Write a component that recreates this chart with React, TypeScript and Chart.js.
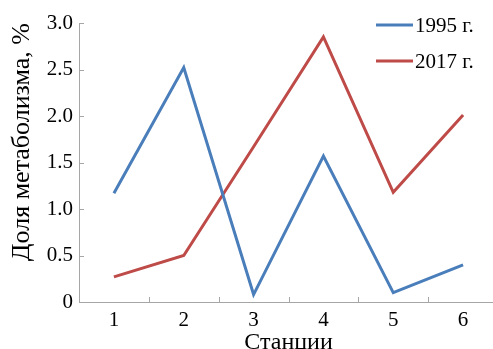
import React, { useEffect, useRef } from 'react';
import { Chart, registerables } from 'chart.js';

Chart.register(...registerables);

const stations = ['1', '2', '3', '4', '5', '6'];
const series1995 = [1.17, 2.52, 0.08, 1.57, 0.1, 0.4];
const series2017 = [0.27, 0.5, 1.67, 2.85, 1.18, 2.01];
const seriesLabels = ['1995 г.', '2017 г.'];
const yTickValues = [0, 0.5, 1, 1.5, 2, 2.5, 3];
const yTickLabels = ['0', '0.5', '1.0', '1.5', '2.0', '2.5', '3.0'];
const xTitle = 'Станции';
const yTitle = 'Доля метаболизма, %';

const FONT = "'Liberation Serif', 'Times New Roman', serif";
const AXIS = '#a6a6a6';
const COLORS = ['#4A7EBB', '#BE4B48'];

const innerTicks = {
  id: 'innerTicks',
  afterDraw(chart: any) {
    const { ctx, chartArea, scales } = chart;
    const x = scales.x;
    const y = scales.y;
    ctx.save();
    ctx.strokeStyle = AXIS;
    ctx.lineWidth = 1;
    ctx.beginPath();
    yTickValues.forEach((v) => {
      const py = Math.round(y.getPixelForValue(v)) + 0.5;
      ctx.moveTo(chartArea.left, py);
      ctx.lineTo(chartArea.left + 5, py);
    });
    const n = stations.length;
    for (let i = 1; i < n; i++) {
      const px = Math.round((x.getPixelForValue(i - 1) + x.getPixelForValue(i)) / 2) + 0.5;
      ctx.moveTo(px, chartArea.bottom);
      ctx.lineTo(px, chartArea.bottom - 5);
    }
    ctx.stroke();
    ctx.restore();
  },
};

const customLegend = {
  id: 'customLegend',
  afterDraw(chart: any) {
    const { ctx, chartArea } = chart;
    ctx.save();
    chart.data.datasets.forEach((ds: any, i: number) => {
      const cy = chartArea.top + 2 + i * 36;
      const x0 = chartArea.right - 122;
      ctx.strokeStyle = ds.borderColor;
      ctx.lineWidth = 3;
      ctx.beginPath();
      ctx.moveTo(x0, cy);
      ctx.lineTo(x0 + 37, cy);
      ctx.stroke();
      ctx.fillStyle = '#000';
      ctx.font = `21px ${FONT}`;
      ctx.textBaseline = 'middle';
      ctx.textAlign = 'left';
      ctx.fillText(ds.label, x0 + 39, cy + 1);
    });
    ctx.restore();
  },
};

export default function App() {
  const ref = useRef<HTMLCanvasElement | null>(null);

  useEffect(() => {
    document.body.style.margin = '0';
    document.body.style.overflow = 'hidden';
    const canvas = ref.current;
    if (!canvas) return;
    const chart = new Chart(canvas, {
      type: 'line',
      data: {
        labels: stations,
        datasets: [
          {
            label: seriesLabels[0],
            data: series1995,
            borderColor: COLORS[0],
            backgroundColor: COLORS[0],
            borderWidth: 3,
            pointRadius: 0,
            tension: 0,
          },
          {
            label: seriesLabels[1],
            data: series2017,
            borderColor: COLORS[1],
            backgroundColor: COLORS[1],
            borderWidth: 3,
            pointRadius: 0,
            tension: 0,
          },
        ],
      },
      options: {
        animation: false,
        responsive: false,
        devicePixelRatio: 1,
        layout: { padding: { top: 23, right: 2, left: 0, bottom: 0 } },
        plugins: {
          legend: { display: false },
          tooltip: { enabled: false },
        },
        scales: {
          x: {
            offset: true,
            grid: { display: true, drawOnChartArea: false, drawTicks: false, color: AXIS },
            border: { display: true, color: AXIS, width: 1 },
            ticks: { color: '#000', font: { family: FONT, size: 21 }, padding: 6 },
            title: {
              display: true,
              text: xTitle,
              color: '#000',
              font: { family: FONT, size: 24, lineHeight: 0.5 },
              padding: { top: 0, bottom: 0 },
            },
            afterFit(scale: any) {
              scale.height = 47;
            },
          },
          y: {
            min: 0,
            max: 3,
            grid: { display: true, drawOnChartArea: false, drawTicks: false, color: AXIS },
            border: { display: true, color: AXIS, width: 1 },
            ticks: {
              stepSize: 0.5,
              color: '#000',
              font: { family: FONT, size: 21 },
              padding: 6,
              callback: (v: any) => {
                const idx = yTickValues.indexOf(Number(v));
                return idx >= 0 ? yTickLabels[idx] : '';
              },
            },
            title: {
              display: true,
              text: yTitle,
              align: 'end',
              color: '#000',
              font: { family: FONT, size: 26 },
              padding: { top: 7, bottom: 0 },
            },
            afterFit(scale: any) {
              scale.width = 79;
            },
          },
        },
      },
      plugins: [innerTicks, customLegend],
    });
    return () => chart.destroy();
  }, []);

  return <canvas ref={ref} width={500} height={349} style={{ display: 'block' }} />;
}
